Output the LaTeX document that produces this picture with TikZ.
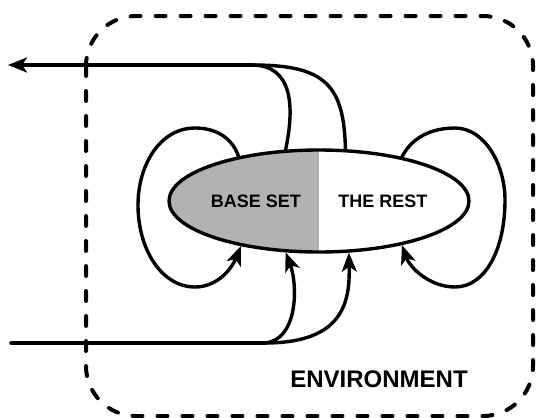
\documentclass[tikz,border=0pt]{standalone}
\usepackage{fontspec}
\setmainfont{Liberation Sans}
\usetikzlibrary{arrows.meta,shapes.geometric}
\definecolor{basegray}{gray}{0.7}
\begin{document}
\begin{tikzpicture}[>={Stealth[length=19pt,width=15pt,inset=5pt]},line join=round,line cap=round,line width=3.4pt,x=1pt,y=-1pt,font=\bfseries\fontsize{18}{20}\selectfont]
	\useasboundingbox (0,0) rectangle (536,418);
	\draw[line width=4pt,dash pattern=on 10pt off 15pt,rounded corners=50pt] (86,16) rectangle (533,416);
	\node[ellipse,minimum width=300pt,minimum height=102pt,inner sep=0pt,path picture={\fill[basegray] (path picture bounding box.south west) rectangle (path picture bounding box.north);}] (set) at (319,201) {};
	\node[ellipse,draw,minimum width=300pt,minimum height=102pt,inner sep=0pt] at (set) {};
	\node (base) at (256,201) {BASE SET};
	\node (rest) at (383,201) {THE REST};
	\node[font=\bfseries\fontsize{24}{28}\selectfont] (env) at (379,379) {ENVIRONMENT};
	\coordinate (out) at (8,65); \coordinate (topj) at (253,65);
	\coordinate (in) at (11,343); \coordinate (botj) at (265,343);
	\draw[->] (topj) -- (out);
	\draw (set.123.4) .. controls (295,105) and (292,66) .. (topj);
	\draw (set.63.4) .. controls (344,85) and (325,65) .. (topj);
	\draw (in) -- (botj);
	\draw[->] (botj) .. controls (298,340) and (298,285) .. (set.237.9);
	\draw[->] (botj) .. controls (345,343) and (350,300) .. (set.300.8);
	\draw[->] (set.151) .. controls (232,137) and (215,128) .. (195,128) .. controls (160,128) and (138,165) .. (138,205) .. controls (138,250) and (162,287) .. (195,287) .. controls (218,287) and (232,268) .. (set.210);
	\draw[->] (set.28) .. controls (412,137) and (432,128) .. (455,128) .. controls (485,128) and (505,165) .. (505,200) .. controls (505,250) and (485,287) .. (455,287) .. controls (430,287) and (410,268) .. (set.332);
\end{tikzpicture}
\end{document}
